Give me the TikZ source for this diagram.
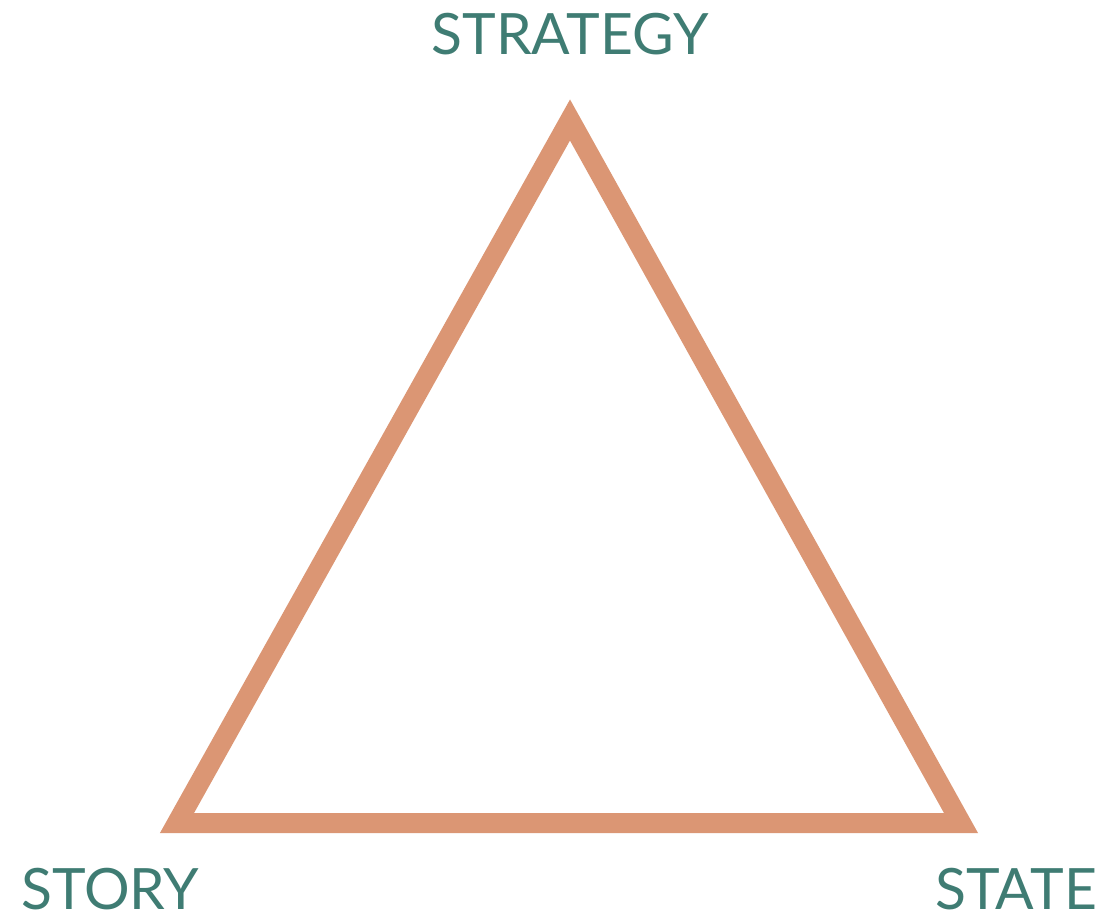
\documentclass[tikz,border=0pt]{standalone}
\usepackage{fontspec}
\setmainfont{Lato}
\usepackage{xcolor}
\usetikzlibrary{positioning}
\definecolor{tealtext}{HTML}{3F7C73}
\definecolor{clayline}{HTML}{DB9674}
\tikzset{%
	corner/.style = {text=tealtext, font=\fontsize{57}{60}\selectfont, inner sep=0pt},
	edge/.style   = {draw=clayline, line width=20pt, line join=miter},
}

\begin{document}
\begin{tikzpicture}[x=1pt,y=-1pt]
	\useasboundingbox (0,0) rectangle (1117,918);
	
	\coordinate (apex)  at (570,120);  % top corner
	\coordinate (left)  at (177,823);  % bottom left corner
	\coordinate (right) at (961,823);  % bottom right corner
	
	\draw[edge] (apex) -- (left) -- (right) -- cycle;
	
	\node[corner,anchor=base] (strategy) at (570,54) {STRATEGY};
	\node[corner,anchor=base west] (story) at (21,909) {STORY};
	\node[corner,anchor=base east] (state) at (1097,909) {STATE};
\end{tikzpicture}
\end{document}
